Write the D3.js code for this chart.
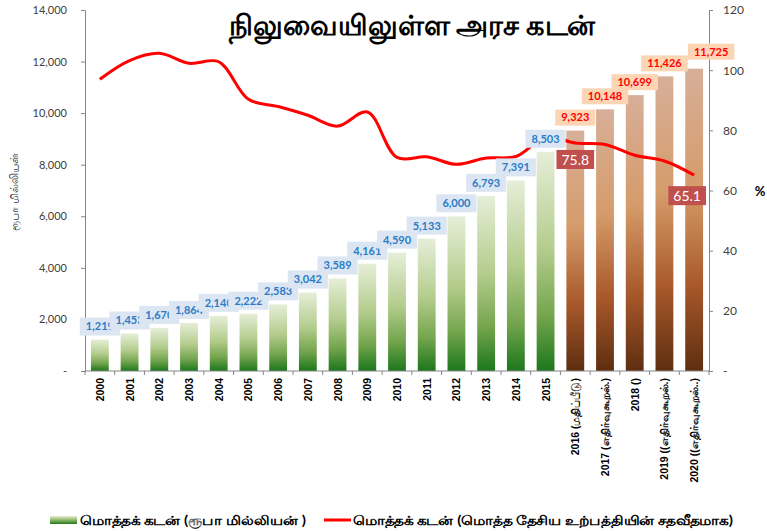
<!DOCTYPE html>
<html>
<head>
<meta charset="utf-8">
<script src="https://cdn.jsdelivr.net/npm/d3@7"></script>
<style>
  html, body { margin: 0; padding: 0; background: #fff; }
  svg { display: block; font-family: Lato, "Liberation Sans", sans-serif; }
</style>
</head>
<body>
<svg id="chart" width="767" height="531"></svg>
<script>
// Outstanding government debt: amount (Rs. million) and ratio to GDP (%)
const categories = [
  "2000", "2001", "2002", "2003", "2004", "2005", "2006", "2007", "2008",
  "2009", "2010", "2011", "2012", "2013", "2014", "2015",
  "2016  (மதிப்பீடு)", "2017  (எதிர்வுகூறல்.)", "2018  ()",
  "2019  ((எதிர்வுகூறல்.)", "2020  ((எதிர்வுகூறல்..)"
];
const debt = [
  1219, 1453, 1670, 1864, 2140, 2222, 2583, 3042, 3589, 4161, 4590,
  5133, 6000, 6793, 7391, 8503, 9323, 10148, 10699, 11426, 11725
];
const debtToGdp = [
  97.0, 103.2, 105.6, 102.3, 102.8, 90.3, 87.9, 85.0, 81.4, 86.1, 71.0,
  71.2, 68.7, 70.8, 71.3, 77.7, 75.8, 75.3, 71.7, 69.8, 65.1
];
const actualYears = 16;            // first 16 categories are actual figures
const labelledRatioIdx = [16, 20]; // ratio points carrying a value label
const leftTicks = [0, 2000, 4000, 6000, 8000, 10000, 12000, 14000];
const rightTicks = [0, 20, 40, 60, 80, 100, 120];

const title = "நிலுவையிலுள்ள அரச கடன்";
const leftAxisTitle = "ரூபா மில்லியன்";
const legendBars = "மொத்தக் கடன் (ரூபா மில்லியன் )";
const legendLine = "மொத்தக் கடன் (மொத்த தேசிய உற்பத்தியின் சதவீதமாக)";

const svg = d3.select("#chart");
const plot = { left: 85, right: 709, top: 10, bottom: 371 };

const x = d3.scaleBand()
  .domain(categories)
  .range([plot.left, plot.right])
  .paddingInner(0.4)
  .paddingOuter(0.2);
const yL = d3.scaleLinear().domain([0, 14000]).range([plot.bottom, plot.top]);
const yR = d3.scaleLinear().domain([0, 120]).range([plot.bottom, plot.top]);
const cx = c => x(c) + x.bandwidth() / 2;

// gradients
const defs = svg.append("defs");
const green = defs.append("linearGradient").attr("id", "gGreen")
  .attr("x1", 0).attr("y1", 0).attr("x2", 0).attr("y2", 1);
[[0, "#e6eed8"], [0.45, "#b3cc8c"], [0.75, "#74a54d"], [1, "#1c771c"]]
  .forEach(([o, c]) => green.append("stop").attr("offset", o).attr("stop-color", c));
const brown = defs.append("linearGradient").attr("id", "gBrown")
  .attr("x1", 0).attr("y1", 0).attr("x2", 0).attr("y2", 1);
[[0, "#d7af99"], [0.4, "#d59b6a"], [0.72, "#a8582a"], [1, "#5e2e10"]]
  .forEach(([o, c]) => brown.append("stop").attr("offset", o).attr("stop-color", c));
const legendGreen = defs.append("linearGradient").attr("id", "gLegend")
  .attr("x1", 0).attr("y1", 0).attr("x2", 0).attr("y2", 1);
[[0, "#e6eed8"], [0.5, "#8fb866"], [1, "#1f7a1f"]]
  .forEach(([o, c]) => legendGreen.append("stop").attr("offset", o).attr("stop-color", c));

// left axis
const axL = svg.append("g")
  .attr("transform", `translate(${plot.left},0)`)
  .call(d3.axisLeft(yL).tickValues(leftTicks).tickSize(4).tickPadding(14)
    .tickFormat(d => d === 0 ? "-" : d3.format(",")(d)));
axL.select(".domain").attr("stroke", "#868686");
axL.selectAll(".tick line").attr("stroke", "#868686");
axL.selectAll(".tick text").attr("font-size", 11).attr("fill", "#404040")
  .attr("font-family", "Lato, sans-serif");

// right axis
const axR = svg.append("g")
  .attr("transform", `translate(${plot.right},0)`)
  .call(d3.axisRight(yR).tickValues(rightTicks).tickSize(4).tickPadding(10)
    .tickFormat(d => d === 0 ? "-" : d));
axR.select(".domain").attr("stroke", "#868686");
axR.selectAll(".tick line").attr("stroke", "#868686");
axR.selectAll(".tick text").attr("font-size", 12).attr("fill", "#404040")
  .attr("font-family", "Lato, sans-serif");

// bars
svg.append("g").selectAll("rect")
  .data(categories)
  .join("rect")
  .attr("x", d => x(d))
  .attr("width", x.bandwidth())
  .attr("y", (d, i) => yL(debt[i]))
  .attr("height", (d, i) => yL(0) - yL(debt[i]))
  .attr("fill", (d, i) => i < actualYears ? "url(#gGreen)" : "url(#gBrown)");

// category axis
const step = x.step();
const xAxisG = svg.append("g");
xAxisG.append("line")
  .attr("x1", plot.left).attr("x2", plot.right)
  .attr("y1", plot.bottom).attr("y2", plot.bottom)
  .attr("stroke", "#868686");
xAxisG.selectAll("line.tk")
  .data(d3.range(categories.length + 1))
  .join("line").attr("class", "tk")
  .attr("x1", i => plot.left + i * step).attr("x2", i => plot.left + i * step)
  .attr("y1", plot.bottom).attr("y2", plot.bottom + 4)
  .attr("stroke", "#868686");
xAxisG.selectAll("text")
  .data(categories)
  .join("text")
  .attr("transform", d => `translate(${cx(d) + 4},${plot.bottom + 7}) rotate(-90)`)
  .attr("text-anchor", "end")
  .attr("font-family", "'Liberation Sans', Arial, sans-serif")
  .attr("font-weight", "bold")
  .attr("font-size", 10.5)
  .attr("fill", "#000")
  .text(d => d);

// ratio line
const line = d3.line()
  .x((d, i) => cx(categories[i]))
  .y(d => yR(d))
  .curve(d3.curveCatmullRom.alpha(0.5));
svg.append("path")
  .datum(debtToGdp)
  .attr("d", line)
  .attr("fill", "none")
  .attr("stroke", "#ff0000")
  .attr("stroke-width", 3)
  .attr("stroke-linejoin", "round");

// bar value labels
const fmt = d3.format(",");
const labelG = svg.append("g");
categories.forEach((c, i) => {
  const projected = i >= actualYears;
  const last = i === categories.length - 1;
  const lx = cx(c) + (last ? 17 : 0);
  const ly = yL(debt[i]) - (last ? 17 : 13);
  const g = labelG.append("g").attr("transform", `translate(${lx},${ly})`);
  const rect = g.append("rect").attr("fill", projected ? "#fcd5b5" : "#dce6f2");
  const t = g.append("text")
    .attr("text-anchor", "middle").attr("dy", "0.35em")
    .attr("font-family", "Lato, sans-serif").attr("font-weight", "bold")
    .attr("font-size", 11)
    .attr("fill", projected ? "#ff0000" : "#2a7cc7")
    .text(fmt(debt[i]));
  const w = t.node().getComputedTextLength() + 12;
  const h = projected ? 16 : 18;
  rect.attr("x", -w / 2).attr("y", -h / 2).attr("width", w).attr("height", h);
});

// ratio value labels
labelledRatioIdx.forEach(i => {
  const last = i === categories.length - 1;
  const lx = cx(categories[i]) - (last ? 7 : 0);
  const ly = yR(debtToGdp[i]) + (last ? 21 : 17);
  const g = labelG.append("g").attr("transform", `translate(${lx},${ly})`);
  const rect = g.append("rect").attr("fill", "#c0504d");
  const t = g.append("text")
    .attr("text-anchor", "middle").attr("dy", "0.36em")
    .attr("font-family", "Lato, sans-serif").attr("font-size", 14)
    .attr("fill", "#fff")
    .text(debtToGdp[i].toFixed(1));
  const w = t.node().getComputedTextLength() + 10;
  rect.attr("x", -w / 2).attr("y", -10).attr("width", w).attr("height", 19);
});

// titles
svg.append("text")
  .attr("x", 229).attr("y", 35)
  .attr("textLength", 366).attr("lengthAdjust", "spacingAndGlyphs")
  .attr("font-size", 28).attr("font-weight", "bold")
  .attr("fill", "#000")
  .text(title);
svg.append("text")
  .attr("transform", "translate(18,192) rotate(-90)")
  .attr("text-anchor", "middle")
  .attr("font-size", 10.5).attr("fill", "#333")
  .text(leftAxisTitle);
svg.append("text")
  .attr("x", 760).attr("y", 196)
  .attr("text-anchor", "middle")
  .attr("font-size", 13).attr("font-weight", "bold").attr("fill", "#000")
  .text("%");

// legend
const lg = svg.append("g").attr("font-weight", "bold").attr("font-size", 13);
lg.append("rect").attr("x", 50).attr("y", 516).attr("width", 27).attr("height", 8)
  .attr("fill", "url(#gLegend)");
lg.append("text").attr("x", 80).attr("y", 520).attr("dy", "0.35em")
  .attr("textLength", 226).attr("lengthAdjust", "spacingAndGlyphs")
  .text(legendBars);
lg.append("line").attr("x1", 324).attr("x2", 351).attr("y1", 520).attr("y2", 520)
  .attr("stroke", "#ff0000").attr("stroke-width", 3);
lg.append("text").attr("x", 353).attr("y", 520).attr("dy", "0.35em")
  .attr("textLength", 380).attr("lengthAdjust", "spacingAndGlyphs")
  .text(legendLine);
</script>
</body>
</html>
